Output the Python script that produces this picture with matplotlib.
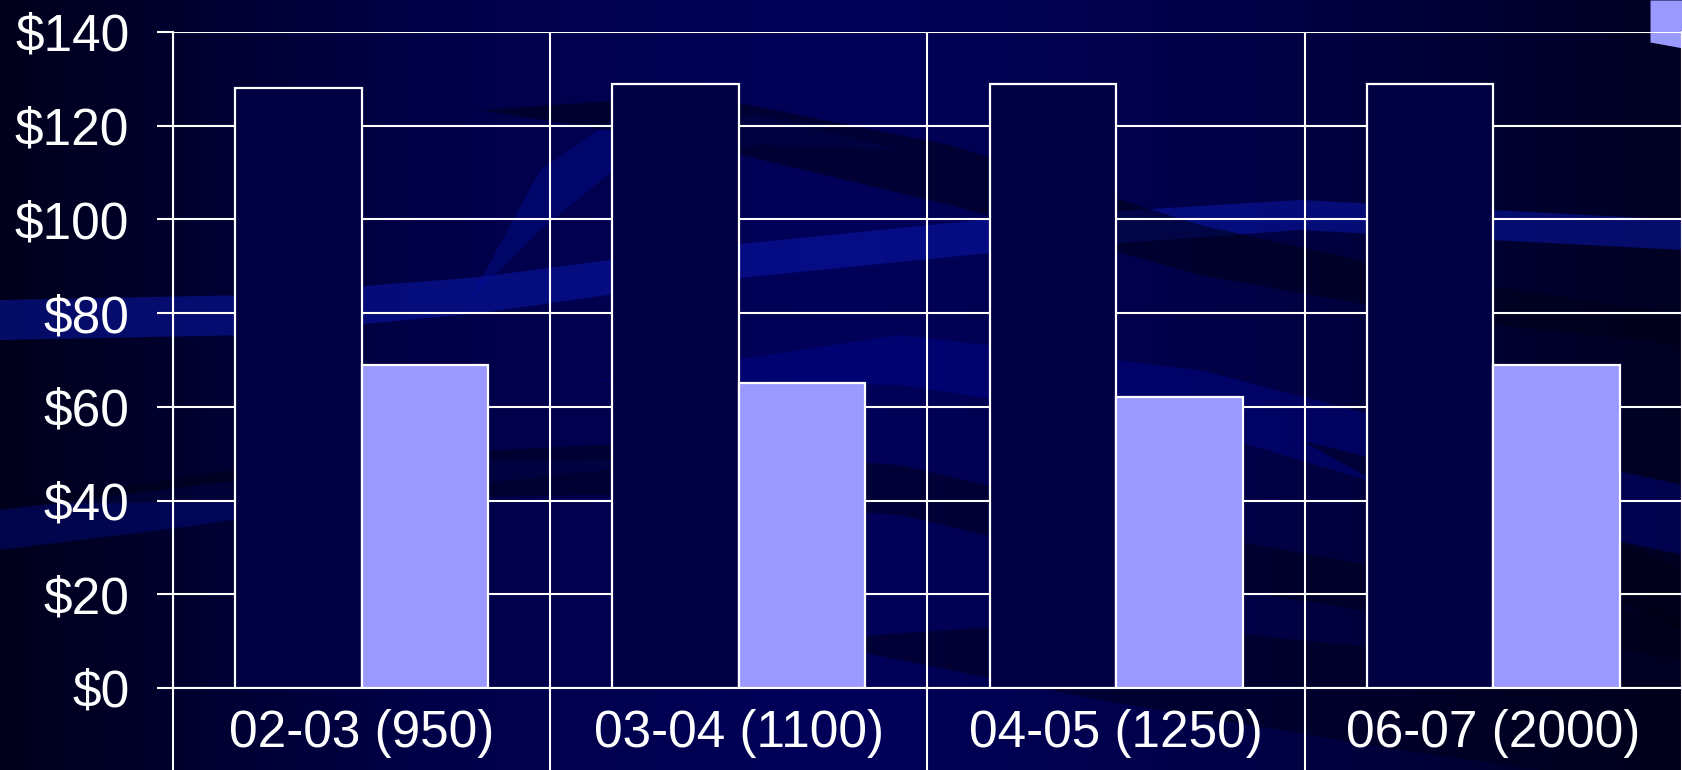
import numpy as np
import matplotlib.pyplot as plt
from matplotlib.colors import LinearSegmentedColormap

categories = ["02-03 (950)", "03-04 (1100)", "04-05 (1250)", "06-07 (2000)"]
series_dark = [128, 129, 129, 129]
series_light = [69, 65, 62, 69]
ytick_values = [0, 20, 40, 60, 80, 100, 120, 140]
ytick_labels = ["$0", "$20", "$40", "$60", "$80", "$100", "$120", "$140"]

W, H = 1683, 770
fig = plt.figure(figsize=(W / 100, H / 100), dpi=100)

# ---- decorative background (slide template) ----
bg = fig.add_axes([0, 0, 1, 1], zorder=0)
bg.set_xlim(0, W)
bg.set_ylim(H, 0)
bg.axis("off")
cmap = LinearSegmentedColormap.from_list(
    "bg", [(0, "#00001c"), (0.25, "#000048"), (0.5, "#00005a"), (0.75, "#000046"), (1, "#000022")])
grad = np.linspace(0, 1, 500)[None, :]
bg.imshow(grad, extent=[0, W, H, 0], aspect="auto", cmap=cmap, zorder=0)


def band(kx, kc, kt, color, alpha, x0=0, x1=W):
    xs = np.linspace(x0, x1, 300)
    c = np.interp(xs, kx, kc)
    t = np.interp(xs, kx, kt)
    bg.fill_between(xs, c - t / 2, c + t / 2, color=color, alpha=alpha, lw=0, zorder=1)


# lighter swooshes
band([0, 250, 480, 700, 1000, 1300, 1683], [320, 315, 295, 265, 235, 215, 235],
     [40, 40, 36, 34, 34, 30, 30], "#0a18b0", 0.5)
band([470, 540, 620, 760, 900], [300, 200, 140, 130, 150], [0, 60, 50, 30, 0], "#0010a0", 0.35)
band([0, 200, 420, 700], [530, 505, 475, 460], [40, 40, 30, 0], "#0010a0", 0.35)
band([600, 900, 1200, 1450, 1683], [380, 360, 400, 470, 520], [0, 50, 60, 70, 70], "#0008a0", 0.35)
# dark swooshes
band([480, 700, 950, 1200, 1450, 1683], [110, 120, 175, 250, 300, 330],
     [0, 50, 60, 50, 40, 30], "#000018", 0.55)
band([0, 300, 600, 900, 1200, 1683], [505, 480, 470, 490, 560, 640],
     [0, 40, 50, 50, 50, 40], "#000018", 0.5)
band([800, 1100, 1400, 1683], [640, 660, 700, 740], [0, 80, 100, 100], "#000018", 0.5)
band([1300, 1500, 1683], [440, 520, 600], [0, 60, 60], "#000014", 0.5)
# corner highlight
bg.fill_between([1650, 1683], [0, 0], [42, 48], color="#9999ff", lw=0, zorder=2)

# ---- chart ----
left, right, top, bottom = 173, 1682, 32, 688
ax = fig.add_axes([left / W, 1 - bottom / H, (right - left) / W, (bottom - top) / H], zorder=2)
ax.patch.set_alpha(0)

x = np.arange(len(categories))
width = 0.335
ax.bar(x - width / 2, series_dark, width, color="#000042", edgecolor="white", linewidth=1.6, zorder=3)
ax.bar(x + width / 2, series_light, width, color="#9999ff", edgecolor="white", linewidth=1.6, zorder=3)

ax.set_xlim(-0.5, len(categories) - 0.5)
ax.set_ylim(0, 140)

ax.set_yticks(ytick_values)
ax.set_yticklabels(ytick_labels)
ax.yaxis.grid(True, color="white", linewidth=1.5, zorder=1)
ax.set_axisbelow(True)

ax.set_xticks(x)
ax.set_xticklabels(categories)
ax.set_xticks(np.arange(len(categories) + 1) - 0.5, minor=True)
ax.xaxis.grid(True, which="minor", color="white", linewidth=1.5)

for lbl in ax.get_xticklabels() + ax.get_yticklabels():
    lbl.set_family(["Liberation Sans", "DejaVu Sans"])
    lbl.set_fontsize(37)
    lbl.set_color("white")

ax.tick_params(axis="y", which="major", length=11.5, width=1.5, color="white", pad=20)
ax.tick_params(axis="x", which="major", length=0, pad=15)
ax.tick_params(axis="x", which="minor", length=62, width=1.5, color="white", direction="out")

for s in ["left", "bottom", "right"]:
    ax.spines[s].set_color("white")
    ax.spines[s].set_linewidth(1.5)
ax.spines["top"].set_visible(False)

fig.savefig("out.png", dpi=100)
